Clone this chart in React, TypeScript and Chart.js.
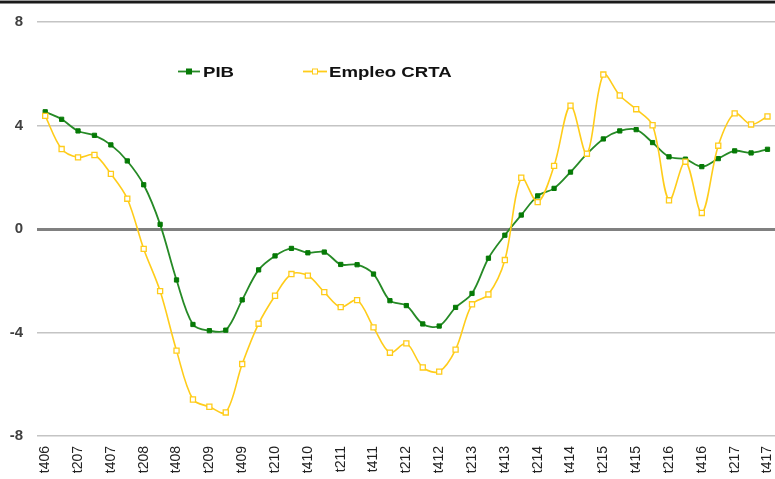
import React, { useEffect, useRef } from "react";
import { Chart, registerables } from "chart.js";

Chart.register(...registerables);

const categories: string[] = [
  "t406", "t107", "t207", "t307", "t407", "t108", "t208", "t308", "t408",
  "t109", "t209", "t309", "t409", "t110", "t210", "t310", "t410",
  "t111", "t211", "t311", "t411", "t112", "t212", "t312", "t412",
  "t113", "t213", "t313", "t413", "t114", "t214", "t314", "t414",
  "t115", "t215", "t315", "t415", "t116", "t216", "t316", "t416",
  "t117", "t217", "t317", "t417",
];

const pib: number[] = [
  4.53, 4.24, 3.79, 3.62, 3.25, 2.63, 1.71, 0.18, -1.97, -3.69, -3.93, -3.91,
  -2.74, -1.58, -1.04, -0.75, -0.92, -0.89, -1.37, -1.38, -1.74, -2.77, -2.96,
  -3.67, -3.75, -3.03, -2.49, -1.13, -0.24, 0.54, 1.28, 1.57, 2.2, 2.9, 3.48,
  3.79, 3.84, 3.34, 2.79, 2.7, 2.41, 2.72, 3.02, 2.94, 3.08,
];

const empleo: number[] = [
  4.37, 3.09, 2.77, 2.86, 2.13, 1.17, -0.77, -2.4, -4.7, -6.59, -6.87, -7.09,
  -5.22, -3.66, -2.58, -1.74, -1.8, -2.44, -3.02, -2.75, -3.8, -4.78, -4.42,
  -5.35, -5.51, -4.66, -2.91, -2.53, -1.2, 1.98, 1.04, 2.44, 4.77, 2.91, 5.97,
  5.16, 4.63, 4.01, 1.11, 2.6, 0.62, 3.22, 4.47, 4.04, 4.35,
];

const seriesNames: string[] = ["PIB", "Empleo CRTA"];
const yTicks: number[] = [-8, -4, 0, 4, 8];

const GREEN = "#067a06";
const GREEN_LINE = "#268a26";
const YELLOW = "#ffcc1a";
const FONT = "'Liberation Sans', Arial, sans-serif";

const legendPlugin = {
  id: "customLegend",
  afterDraw(chart: any) {
    const ctx = chart.ctx as CanvasRenderingContext2D;
    const y = 71.5;
    const items = [
      { x0: 178, x1: 200, tx: 203, name: seriesNames[0], color: GREEN_LINE, fill: GREEN, stroke: GREEN },
      { x0: 303, x1: 327, tx: 329, name: seriesNames[1], color: YELLOW, fill: "#ffffff", stroke: YELLOW },
    ];
    ctx.save();
    for (const it of items) {
      ctx.strokeStyle = it.color;
      ctx.lineWidth = 1.8;
      ctx.beginPath();
      ctx.moveTo(it.x0, y);
      ctx.lineTo(it.x1, y);
      ctx.stroke();
      const mx = (it.x0 + it.x1) / 2;
      ctx.fillStyle = it.fill;
      ctx.fillRect(mx - 2.5, y - 2.5, 5, 5);
      ctx.strokeStyle = it.stroke;
      ctx.lineWidth = 1;
      ctx.strokeRect(mx - 2.5, y - 2.5, 5, 5);
      ctx.save();
      ctx.translate(it.tx, y);
      ctx.scale(1.24, 1);
      ctx.fillStyle = "#111111";
      ctx.font = `bold 15px ${FONT}`;
      ctx.textBaseline = "middle";
      ctx.textAlign = "left";
      ctx.fillText(it.name, 0, 1);
      ctx.restore();
    }
    ctx.restore();
  },
};

export default function App() {
  const canvasRef = useRef<HTMLCanvasElement | null>(null);

  useEffect(() => {
    document.body.style.margin = "0";
    const canvas = canvasRef.current;
    if (!canvas) return;
    const chart = new Chart(canvas, {
      type: "line",
      data: {
        labels: categories,
        datasets: [
          {
            label: seriesNames[1],
            data: empleo,
            borderColor: YELLOW,
            borderWidth: 1.6,
            backgroundColor: "#ffffff",
            pointBackgroundColor: "#ffffff",
            pointBorderColor: YELLOW,
            pointBorderWidth: 1.3,
            pointStyle: "rect",
            pointRadius: 3.6,
            tension: 0.33,
            fill: false,
          },
          {
            label: seriesNames[0],
            data: pib,
            borderColor: GREEN_LINE,
            borderWidth: 1.8,
            backgroundColor: GREEN,
            pointBackgroundColor: GREEN,
            pointBorderColor: GREEN,
            pointBorderWidth: 1,
            pointStyle: "rect",
            pointRadius: 3,
            tension: 0.33,
            fill: false,
          },
        ],
      },
      options: {
        animation: false,
        responsive: false,
        maintainAspectRatio: false,
        layout: { padding: { top: 22, right: 0, left: 0, bottom: 0 } },
        plugins: {
          legend: { display: false },
          tooltip: { enabled: false },
        },
        scales: {
          x: {
            type: "category",
            offset: true,
            grid: { display: false, drawTicks: false },
            border: { display: false },
            afterFit: (scale: any) => {
              scale.height = 43;
              scale.paddingLeft = 0;
              scale.paddingRight = 0;
            },
            ticks: {
              autoSkip: false,
              minRotation: 90,
              maxRotation: 90,
              padding: 10,
              color: "#222222",
              font: { family: FONT, size: 14 },
              callback: (_v: any, i: number) => (i % 2 === 0 ? categories[i] : ""),
            },
          },
          y: {
            min: -8,
            max: 8,
            afterFit: (scale: any) => {
              scale.width = 37;
              scale.paddingTop = 0;
              scale.paddingBottom = 0;
            },
            afterBuildTicks: (scale: any) => {
              scale.ticks = yTicks.map((v) => ({ value: v }));
            },
            grid: {
              drawTicks: false,
              color: (c: any) => (c.tick && c.tick.value === 0 ? "#808080" : "#c4c4c4"),
              lineWidth: (c: any) => (c.tick && c.tick.value === 0 ? 3 : 1.5),
            },
            border: { display: false },
            ticks: {
              padding: 14,
              color: "#404040",
              font: { family: FONT, size: 15, weight: "bold" },
            },
          },
        },
      },
      plugins: [legendPlugin],
    });
    return () => chart.destroy();
  }, []);

  return (
    <div style={{ position: "absolute", left: 0, top: 0, width: 775, height: 479, overflow: "hidden", background: "#ffffff" }}>
      <canvas ref={canvasRef} width={781} height={479} style={{ display: "block" }} />
      <div style={{ position: "absolute", left: 0, top: 0, width: 775, height: 1, background: "#9a9a9a" }} />
      <div style={{ position: "absolute", left: 0, top: 1, width: 775, height: 2, background: "#1a1a1a" }} />
      <div style={{ position: "absolute", left: 0, top: 3, width: 775, height: 1, background: "#8a8a8a" }} />
    </div>
  );
}
